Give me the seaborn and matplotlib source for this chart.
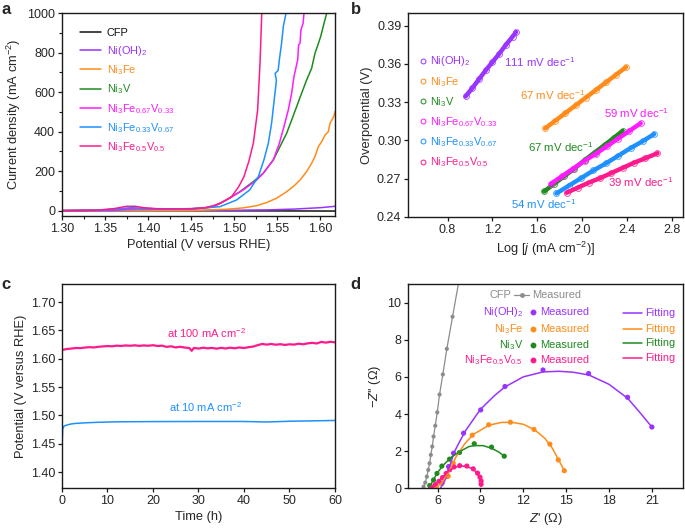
import matplotlib
matplotlib.use('Agg')
import matplotlib.pyplot as plt
import seaborn as sns
from matplotlib.lines import Line2D
from matplotlib.ticker import MultipleLocator, FormatStrFormatter

sns.set_theme(style='ticks')
plt.rcParams['font.family'] = ['Liberation Sans', 'DejaVu Sans']
plt.rcParams['mathtext.fontset'] = 'custom'
plt.rcParams['mathtext.rm'] = 'Liberation Sans'
plt.rcParams['mathtext.it'] = 'Liberation Sans:italic'
plt.rcParams['mathtext.bf'] = 'Liberation Sans:bold'
plt.rcParams['axes.edgecolor'] = '#1a1a1a'
plt.rcParams['axes.linewidth'] = 1.0

C_CFP = '#111111'
C_NIOH = '#9933ff'
C_NIFE = '#ff8c1a'
C_NIV = '#1f8b1f'
C_F67 = '#ff1aff'
C_F33 = '#1e90ff'
C_F50 = '#ff1a8c'
C_GRAY = '#8c8c8c'

names = ['CFP', 'Ni(OH)$_2$', 'Ni$_3$Fe', 'Ni$_3$V', 'Ni$_3$Fe$_{0.67}$V$_{0.33}$',
         'Ni$_3$Fe$_{0.33}$V$_{0.67}$', 'Ni$_3$Fe$_{0.5}$V$_{0.5}$']

# --- panel a : LSV curves (potential V, current mA cm-2)
cfp_v = [1.30, 1.40, 1.50, 1.617]
cfp_j = [0, 0, -1, -2]
nioh_v = [1.30, 1.40, 1.45, 1.50, 1.54, 1.57, 1.60, 1.617]
nioh_j = [0, 1, 1, 2, 4, 8, 15, 22]
nife_v = [1.30, 1.37, 1.40, 1.45, 1.4601, 1.491, 1.5105, 1.526, 1.5376, 1.5492, 1.5609, 1.5686,
          1.5764, 1.5841, 1.5899, 1.5938, 1.5977, 1.6016, 1.6055, 1.6093, 1.6113, 1.6155, 1.617]
nife_j = [0, 3, 2, 1, 2, 7, 14, 25, 41, 63, 96, 122, 155, 198, 240, 274, 324, 350, 383, 400,
          443, 476, 502]
niv_v = [1.30, 1.35, 1.37, 1.385, 1.40, 1.43, 1.45, 1.465, 1.4756, 1.491, 1.5066, 1.5221, 1.5337,
         1.5454, 1.5531, 1.5609, 1.5667, 1.5725, 1.5783, 1.5841, 1.5899, 1.5938, 1.5965, 1.6004,
         1.6043, 1.6074]
niv_j = [0, 2, 6, 10, 9, 8, 9, 13, 19, 54, 96, 147, 189, 257, 324, 392, 459, 527, 595, 662, 721,
         797, 831, 882, 949, 1000]
f67_v = [1.30, 1.35, 1.37, 1.385, 1.40, 1.43, 1.45, 1.465, 1.4756, 1.491, 1.5105, 1.526, 1.5337,
         1.5454, 1.5524, 1.5578, 1.5628, 1.5667, 1.5694, 1.5737, 1.5748, 1.5764, 1.5775, 1.580, 1.581]
f67_j = [0, 2, 6, 10, 9, 8, 9, 14, 20, 54, 105, 155, 189, 257, 341, 426, 510, 595, 679, 764, 840,
         848, 916, 949, 1000]
f33_v = [1.30, 1.34, 1.36, 1.38, 1.395, 1.41, 1.43, 1.45, 1.465, 1.4834, 1.5027, 1.518, 1.528,
         1.5345, 1.5396, 1.5434, 1.546, 1.549, 1.5475, 1.551, 1.5524, 1.555, 1.557, 1.5601]
f33_j = [0, 2, 8, 15, 12, 9, 9, 10, 14, 20, 54, 105, 172, 257, 341, 443, 544, 660, 695, 710,
         764, 848, 932, 1000]
f50_v = [1.30, 1.34, 1.36, 1.375, 1.385, 1.395, 1.41, 1.43, 1.45, 1.465, 1.4756, 1.485, 1.497,
         1.505, 1.5113, 1.517, 1.5222, 1.5272, 1.530, 1.532]
f50_j = [0, 2, 10, 22, 22, 15, 10, 9, 10, 14, 25, 40, 71, 120, 172, 250, 341, 510, 750, 1000]

# --- panel b : Tafel (log j, overpotential V)
t_nioh_x = [0.96, 1.02, 1.08, 1.14, 1.20, 1.26, 1.32, 1.38, 1.41]
t_nioh_y = [0.3345, 0.341, 0.348, 0.355, 0.3615, 0.368, 0.375, 0.3815, 0.385]
t_nife_x = [1.67, 1.76, 1.85, 1.94, 2.03, 2.12, 2.21, 2.30, 2.39]
t_nife_y = [0.3095, 0.3155, 0.3215, 0.3275, 0.3335, 0.3395, 0.3455, 0.3515, 0.3575]
t_niv_x = [1.66, 1.75, 1.84, 1.93, 2.02, 2.11, 2.20, 2.28, 2.36]
t_niv_y = [0.260, 0.266, 0.272, 0.278, 0.2845, 0.2905, 0.2965, 0.302, 0.3075]
t_f67_x = [1.72, 1.82, 1.92, 2.02, 2.12, 2.22, 2.32, 2.42, 2.52]
t_f67_y = [0.266, 0.272, 0.278, 0.284, 0.2895, 0.2955, 0.3015, 0.3075, 0.3135]
t_f33_x = [1.77, 1.88, 1.99, 2.10, 2.21, 2.32, 2.43, 2.54, 2.64]
t_f33_y = [0.2585, 0.2645, 0.2705, 0.2765, 0.282, 0.288, 0.294, 0.2995, 0.305]
t_f50_x = [1.86, 1.96, 2.06, 2.16, 2.26, 2.36, 2.46, 2.56, 2.67]
t_f50_y = [0.259, 0.263, 0.267, 0.2705, 0.2745, 0.2785, 0.2825, 0.286, 0.290]
slopes = ['111', '67', '67', '59', '54', '39']

# --- panel c : stability (time h, potential V)
hi_t = [0, 1, 2, 3, 4, 5, 6, 7, 8, 9, 10, 11, 12, 13, 14, 15, 16, 17, 18, 19, 20, 21, 22, 23,
        24, 25, 26, 27, 28, 28.5, 29, 30, 31, 32, 33, 34, 35, 36, 37, 38, 39, 40, 41, 42, 43, 44,
        45, 46, 47, 48, 49, 50, 51, 52, 53, 54, 55, 56, 57, 58, 59, 60]
hi_v = [1.6155, 1.6172, 1.6180, 1.6190, 1.6188, 1.6198, 1.6205, 1.6200, 1.6212, 1.6218, 1.6225,
        1.6220, 1.6232, 1.6226, 1.6236, 1.6230, 1.6238, 1.6228, 1.6236, 1.6230, 1.6240, 1.6226,
        1.6232, 1.6210, 1.6220, 1.6200, 1.6212, 1.6198, 1.6190, 1.6140, 1.6192, 1.6180, 1.6196,
        1.6184, 1.6192, 1.6178, 1.6194, 1.6182, 1.6196, 1.6186, 1.6200, 1.6190, 1.6205, 1.6215,
        1.6240, 1.6262, 1.6250, 1.6262, 1.6248, 1.6258, 1.6244, 1.6256, 1.6250, 1.6266, 1.6256,
        1.6272, 1.6282, 1.6270, 1.6298, 1.6285, 1.6300, 1.6290]
lo_t = [0, 0.05, 0.15, 0.4, 1, 2, 3, 5, 8, 12, 20, 30, 40, 45, 50, 55, 60]
lo_v = [1.417, 1.455, 1.476, 1.481, 1.483, 1.485, 1.486, 1.487, 1.488, 1.4888, 1.4892, 1.4894,
        1.4894, 1.4885, 1.4898, 1.4905, 1.4912]

# --- panel d : Nyquist (Z' ohm, -Z'' ohm)
cfp_zr = [5.02, 5.14, 5.25, 5.35, 5.44, 5.53, 5.63, 5.72, 5.84, 5.98, 6.14, 6.37, 6.65, 7.05, 7.55]
cfp_zi = [0.09, 0.31, 0.63, 0.99, 1.35, 1.80, 2.25, 2.79, 3.37, 4.09, 5.05, 6.13, 7.51, 9.24, 11.4]
nioh_zr = [6.31, 6.63, 6.77, 7.12, 7.82, 9.02, 10.72, 13.38, 16.57, 19.3, 21.0]
nioh_zi = [0.27, 0.63, 1.17, 1.89, 2.97, 4.22, 5.48, 6.37, 6.18, 4.90, 3.30]
nioh_fr = [6.2, 6.5, 6.8, 7.2, 7.6, 8.0, 9.0, 10.0, 10.7, 12.0, 13.4, 14.5, 15.5, 16.6, 18.0,
           19.3, 20.2, 21.0]
nioh_fi = [0, 0.4, 1.1, 2.0, 2.6, 3.15, 4.25, 5.0, 5.45, 6.0, 6.27, 6.3, 6.25, 6.1, 5.6, 4.85,
           4.05, 3.3]
nife_zr = [5.9, 6.3, 6.75, 7.1, 8.43, 9.58, 11.1, 12.75, 13.86, 14.45, 14.87]
nife_zi = [0.05, 0.27, 0.65, 1.35, 2.86, 3.42, 3.56, 3.17, 2.38, 1.53, 0.95]
nife_fr = [5.8, 6.3, 6.8, 7.3, 7.9, 8.5, 9.6, 10.5, 11.2, 12.0, 12.8, 13.5, 14.0, 14.5, 14.87]
nife_fi = [0, 0.3, 0.9, 1.7, 2.4, 2.9, 3.4, 3.55, 3.55, 3.45, 3.15, 2.7, 2.2, 1.5, 0.95]
niv_zr = [5.45, 5.72, 5.96, 6.3, 6.84, 7.54, 8.57, 9.78, 10.67]
niv_zi = [0.15, 0.45, 0.8, 1.2, 1.57, 1.93, 2.4, 2.22, 1.73]
niv_fr = [5.4, 5.7, 6.0, 6.4, 7.0, 7.6, 8.2, 8.6, 9.2, 9.8, 10.3, 10.67]
niv_fi = [0, 0.45, 0.85, 1.25, 1.7, 2.0, 2.25, 2.3, 2.3, 2.15, 1.95, 1.73]
f50_zr = [5.6, 5.85, 6.1, 6.35, 6.6, 6.85, 7.15, 7.55, 8.05, 8.5, 8.8, 8.97, 9.05, 9.05]
f50_zi = [0.08, 0.2, 0.38, 0.58, 0.8, 1.0, 1.15, 1.22, 1.2, 1.05, 0.82, 0.6, 0.4, 0.22]
f50_fr = [5.4, 5.8, 6.3, 6.8, 7.2, 7.6, 8.0, 8.4, 8.7, 8.95, 9.05, 9.05]
f50_fi = [0, 0.2, 0.55, 0.95, 1.13, 1.2, 1.18, 1.07, 0.88, 0.6, 0.3, 0.1]

LAB = 9.3   # axis label size
TICK = 9.0
SMALL = 7.9

fig = plt.figure(figsize=(6.85, 5.30), dpi=100)
ax_a = fig.add_axes([0.0905, 0.5925, 0.3985, 0.3825])
ax_b = fig.add_axes([0.596, 0.5906, 0.4015, 0.385])
ax_c = fig.add_axes([0.0905, 0.0792, 0.3985, 0.385])
ax_d = fig.add_axes([0.596, 0.0786, 0.4015, 0.3856])

for ax in (ax_a, ax_b, ax_c, ax_d):
    ax.tick_params(direction='out', length=3, width=0.9, labelsize=TICK, pad=2, color='#1a1a1a')
    ax.tick_params(which='minor', direction='out', length=2, width=0.8, color='#1a1a1a')


def line(ax, x, y, color, lw=1.0, **kw):
    sns.lineplot(x=x, y=y, ax=ax, color=color, lw=lw, sort=False, estimator=None, **kw)


# ---------------- a
a_series = [(cfp_v, cfp_j, C_CFP), (nioh_v, nioh_j, C_NIOH), (nife_v, nife_j, C_NIFE),
            (niv_v, niv_j, C_NIV), (f67_v, f67_j, C_F67), (f33_v, f33_j, C_F33),
            (f50_v, f50_j, C_F50)]
for (x, y, c), lab in zip(a_series, names):
    line(ax_a, x, y, c, lw=1.1, label=lab)
ax_a.set_xlim(1.30, 1.617)
ax_a.set_ylim(-27, 1000)
ax_a.xaxis.set_major_locator(MultipleLocator(0.05))
ax_a.xaxis.set_minor_locator(MultipleLocator(0.025))
ax_a.xaxis.set_major_formatter(FormatStrFormatter('%.2f'))
ax_a.yaxis.set_major_locator(MultipleLocator(200))
ax_a.yaxis.set_minor_locator(MultipleLocator(100))
ax_a.set_xlabel('Potential (V versus RHE)', fontsize=LAB, labelpad=3)
ax_a.set_ylabel('Current density (mA cm$^{-2}$)', fontsize=LAB, labelpad=3)
ax_a.legend(loc='upper left', bbox_to_anchor=(0.03, 0.975), frameon=False, fontsize=SMALL,
            handlelength=1.95, handletextpad=0.5, labelspacing=0.5,
            labelcolor=[c for _, _, c in a_series])

# ---------------- b
b_series = [(t_nioh_x, t_nioh_y, C_NIOH), (t_nife_x, t_nife_y, C_NIFE), (t_niv_x, t_niv_y, C_NIV),
            (t_f67_x, t_f67_y, C_F67), (t_f33_x, t_f33_y, C_F33), (t_f50_x, t_f50_y, C_F50)]
for x, y, c in b_series:
    line(ax_b, x, y, c, lw=3.2)
    ax_b.plot(x, y, 'o', mfc='none', mec=c, ms=4.2, mew=0.7, alpha=0.8)
ax_b.set_xlim(0.45, 2.9)
ax_b.set_ylim(0.24, 0.40)
ax_b.set_xticks([0.8, 1.2, 1.6, 2.0, 2.4, 2.8])
ax_b.xaxis.set_major_formatter(FormatStrFormatter('%.1f'))
ax_b.set_yticks([0.24, 0.27, 0.30, 0.33, 0.36, 0.39])
ax_b.yaxis.set_major_formatter(FormatStrFormatter('%.2f'))
ax_b.set_xlabel('Log [$j$ (mA cm$^{-2}$)]', fontsize=LAB, labelpad=3)
ax_b.set_ylabel('Overpotential (V)', fontsize=LAB, labelpad=3)
b_handles = [Line2D([], [], ls='none', marker='o', mfc='none', mec=c, ms=3.5, mew=0.7)
             for _, _, c in b_series]
ax_b.legend(b_handles, names[1:], loc='upper left', bbox_to_anchor=(0.0, 0.845), frameon=False,
            fontsize=SMALL, handlelength=0.8, handletextpad=0.3, labelspacing=0.58,
            labelcolor=[c for _, _, c in b_series])
slope_pos = [(1.62, 0.3618), (1.74, 0.3357), (1.81, 0.2948), (2.48, 0.3214), (1.66, 0.2504),
             (2.52, 0.2674)]
for (x, y, c), s, (px, py) in zip(b_series, slopes, slope_pos):
    ax_b.text(px, py, s + ' mV dec$^{-1}$', color=c, fontsize=8.2, ha='center', va='center')

# ---------------- c
line(ax_c, hi_t, hi_v, C_F50, lw=1.6)
line(ax_c, lo_t, lo_v, C_F33, lw=1.1)
ax_c.set_xlim(0, 60)
ax_c.set_ylim(1.372, 1.732)
ax_c.xaxis.set_major_locator(MultipleLocator(10))
ax_c.yaxis.set_major_locator(MultipleLocator(0.05))
ax_c.yaxis.set_major_formatter(FormatStrFormatter('%.2f'))
ax_c.set_xlabel('Time (h)', fontsize=LAB, labelpad=3)
ax_c.set_ylabel('Potential (V versus RHE)', fontsize=LAB, labelpad=3)
ax_c.text(31.8, 1.6453, 'at 100 mA cm$^{-2}$', color=C_F50, fontsize=8.0, ha='center', va='center')
ax_c.text(31.5, 1.5147, 'at 10 mA cm$^{-2}$', color=C_F33, fontsize=8.0, ha='center', va='center')

# ---------------- d
line(ax_d, cfp_zr, cfp_zi, C_GRAY, lw=0.9)
sns.scatterplot(x=cfp_zr, y=cfp_zi, ax=ax_d, color=C_GRAY, s=9, edgecolor='none')
d_series = [(nioh_zr, nioh_zi, nioh_fr, nioh_fi, C_NIOH), (nife_zr, nife_zi, nife_fr, nife_fi, C_NIFE),
            (niv_zr, niv_zi, niv_fr, niv_fi, C_NIV), (f50_zr, f50_zi, f50_fr, f50_fi, C_F50)]
for zr, zi, fr, fi, c in d_series:
    line(ax_d, fr, fi, c, lw=1.1)
    sns.scatterplot(x=zr, y=zi, ax=ax_d, color=c, s=14, edgecolor='none')
ax_d.set_xlim(3.95, 23.2)
ax_d.set_ylim(0, 11)
ax_d.set_xticks([6, 9, 12, 15, 18, 21])
ax_d.set_yticks([0, 2, 4, 6, 8, 10])
ax_d.set_xlabel("$Z$' (Ω)", fontsize=LAB, labelpad=3)
ax_d.set_ylabel("−$Z$'' (Ω)", fontsize=LAB, labelpad=3)

tr = ax_d.transAxes
ax_d.text(0.376, 0.946, 'CFP', color=C_GRAY, fontsize=SMALL, ha='right', va='center', transform=tr)
ax_d.plot([0.385, 0.44], [0.946, 0.946], color=C_GRAY, lw=0.9, transform=tr)
ax_d.plot([0.4125], [0.946], 'o', color=C_GRAY, ms=2.5, transform=tr)
ax_d.text(0.45, 0.946, 'Measured', color=C_GRAY, fontsize=SMALL, ha='left', va='center', transform=tr)
row_y = [0.862, 0.779, 0.702, 0.628]
fit_y = [0.857, 0.78, 0.71, 0.636]
d_labels = [names[1], names[2], names[3], names[6]]
for (zr, zi, fr, fi, c), lab, ry, fy in zip(d_series, d_labels, row_y, fit_y):
    ax_d.text(0.418, ry, lab, color=c, fontsize=SMALL, ha='right', va='center', transform=tr)
    ax_d.plot([0.453], [ry], 'o', color=c, ms=3.2, transform=tr)
    ax_d.text(0.478, ry, 'Measured', color=c, fontsize=SMALL, ha='left', va='center', transform=tr)
    ax_d.plot([0.78, 0.849], [fy, fy], color=c, lw=1.1, transform=tr)
    ax_d.text(0.862, fy, 'Fitting', color=c, fontsize=SMALL, ha='left', va='center', transform=tr)

for lab, x, y in [('a', 0.002, 0.997), ('b', 0.512, 0.997), ('c', 0.002, 0.478), ('d', 0.512, 0.478)]:
    fig.text(x, y, lab, fontsize=12, fontweight='bold', ha='left', va='top')

fig.savefig('out.png', dpi=100)
